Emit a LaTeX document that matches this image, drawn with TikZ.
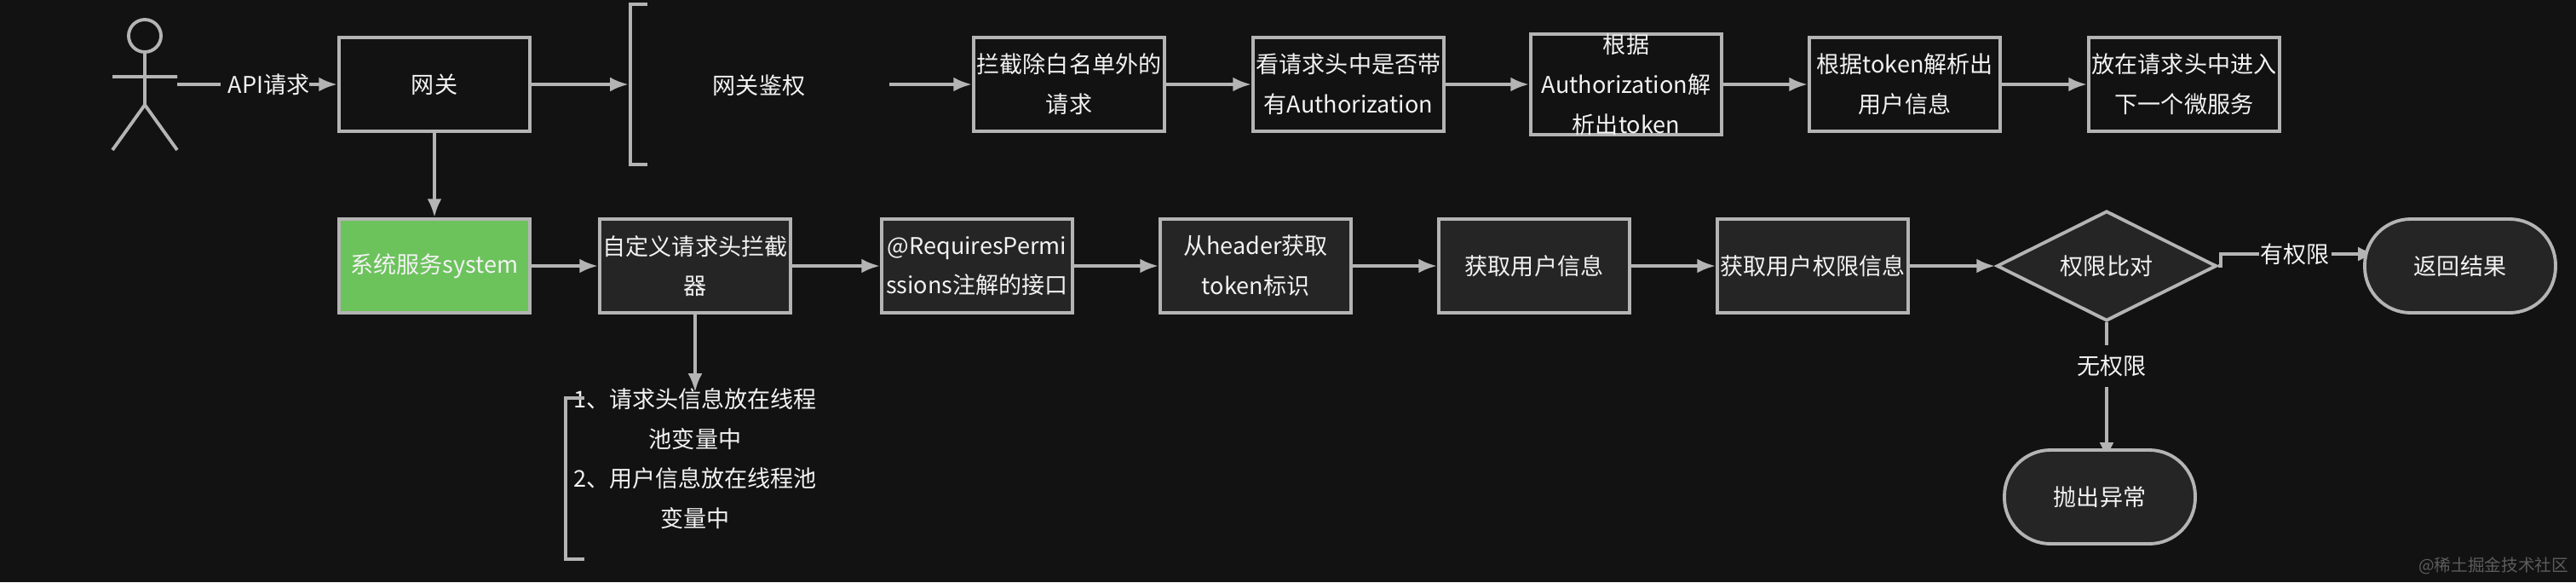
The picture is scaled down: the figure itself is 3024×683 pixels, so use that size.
\documentclass[tikz,border=0pt]{standalone}
\usepackage{fontspec}
\setmainfont{Noto Sans CJK SC}
\usetikzlibrary{arrows.meta,shapes.geometric,backgrounds}
\definecolor{canvas}{HTML}{121212}
\definecolor{edgegray}{HTML}{B4B4B4}
\definecolor{darkbox}{HTML}{252525}
\definecolor{greenbox}{HTML}{6CC35C}
\definecolor{textwhite}{HTML}{F2F2F2}
\definecolor{markgray}{HTML}{5C5C5C}
\tikzset{
  txt/.style={text=textwhite,align=center,inner sep=0pt,font=\fontsize{7.7}{13.3}\selectfont},
  plainbox/.style={txt,draw=edgegray,line width=1.1pt,fill=canvas,minimum width=22.4mm,minimum height=11mm},
  darkrect/.style={plainbox,fill=darkbox},
  greenrect/.style={plainbox,fill=greenbox},
  pill/.style={darkrect,rounded corners=5.4mm},
  decision/.style={txt,shape=diamond,draw=edgegray,line width=1.1pt,fill=darkbox,minimum width=25.8mm,minimum height=12.9mm,aspect=2},
  edgelabel/.style={txt,fill=canvas},
  flow/.style={draw=edgegray,line width=1.1pt,-{Latex[length=6.2pt,width=4.8pt]}},
  stroke/.style={draw=edgegray,line width=1.1pt}
}
\begin{document}
\begin{tikzpicture}[x=.1mm,y=-.1mm,line join=miter]
% actor
\node[circle,stroke,inner sep=0pt,minimum size=3.8mm] (head) at (170,42) {};
\coordinate (hip) at (170,123);
\coordinate (armL) at (132,90);
\coordinate (armR) at (208,90);
\coordinate (footL) at (132,176);
\coordinate (footR) at (208,176);
\coordinate (actorout) at (208,99);
\draw[stroke] (head.south) -- (hip) (armL) -- (armR) (footL) -- (hip) -- (footR);
% first row
\node[plainbox] (gateway) at (510,99) {网关};
\node[txt] (auth) at (891,100) {网关鉴权};
\coordinate (authin) at (738,99);
\coordinate (authout) at (1044,99);
\coordinate (authtop) at (760,5);
\coordinate (authbot) at (760,193);
\draw[stroke] (authtop) -- (740,5) -- (740,193) -- (authbot);
\node[plainbox] (white) at (1255,99) {拦截除白名单外的\\请求};
\node[plainbox] (header) at (1583,99) {看请求头中是否带\\有Authorization};
\node[plainbox] (parse) at (1909,99) {根据\\Authorization解\\析出token};
\node[plainbox] (user) at (2236,99) {根据token解析出\\用户信息};
\node[plainbox] (next) at (2564,99) {放在请求头中进入\\下一个微服务};
% second row
\node[greenrect] (system) at (510,312) {系统服务system};
\node[darkrect] (filter) at (816,312) {自定义请求头拦截\\器};
\node[darkrect] (perms) at (1147,312) {@RequiresPermi\\ssions注解的接口};
\node[darkrect] (token) at (1474,312) {从header获取\\token标识};
\node[darkrect] (info) at (1801,312) {获取用户信息};
\node[darkrect] (rights) at (2128,312) {获取用户权限信息};
\node[decision] (compare) at (2473,312) {权限比对};
\node[pill] (result) at (2888,312) {返回结果};
\node[pill] (error) at (2465,583) {抛出异常};
% note under the filter
\node[txt] (note) at (816,538) {1、请求头信息放在线程\\池变量中\\2、用户信息放在线程池\\变量中};
\coordinate (notein) at (816,460);
\coordinate (notetop) at (686,467);
\coordinate (notebot) at (686,656);
\draw[stroke] (notetop) -- (664,467) -- (664,656) -- (notebot);
% labels on the lines
\node[edgelabel] (apilabel) at (311,99) {\hspace{2.6pt}API请求};
\coordinate (resulttip) at (2790,298);
\coordinate (bend) at (2607,298);
\node[edgelabel,minimum width=8.5mm] (yeslabel) at (2694,298) {有权限};
\coordinate (errortip) at (2473,541);
\node[edgelabel,minimum height=4.9mm] (nolabel) at (2479,429) {无权限};
\node[text=markgray,inner sep=0pt,font=\fontsize{5.6}{7}\selectfont,anchor=east] (mark) at (3016,664) {@稀土掘金技术社区};
\begin{pgfonlayer}{background}
\fill[canvas] (0,0) rectangle (3024,683);
\draw[flow] (actorout) -- (gateway);
\draw[flow] (gateway) -- (authin);
\draw[flow] (authout) -- (white);
\draw[flow] (white) -- (header);
\draw[flow] (header) -- (parse);
\draw[flow] (parse) -- (user);
\draw[flow] (user) -- (next);
\draw[flow] (gateway) -- (system);
\draw[flow] (system) -- (filter);
\draw[flow] (filter) -- (perms);
\draw[flow] (perms) -- (token);
\draw[flow] (token) -- (info);
\draw[flow] (info) -- (rights);
\draw[flow] (rights) -- (compare);
\draw[flow] (filter) -- (notein);
\draw[flow] (compare.east) -- (compare.east -| bend) -- (bend) -- (resulttip);
\draw[flow] (compare.south) -- (errortip);
\end{pgfonlayer}
\end{tikzpicture}
\end{document}
